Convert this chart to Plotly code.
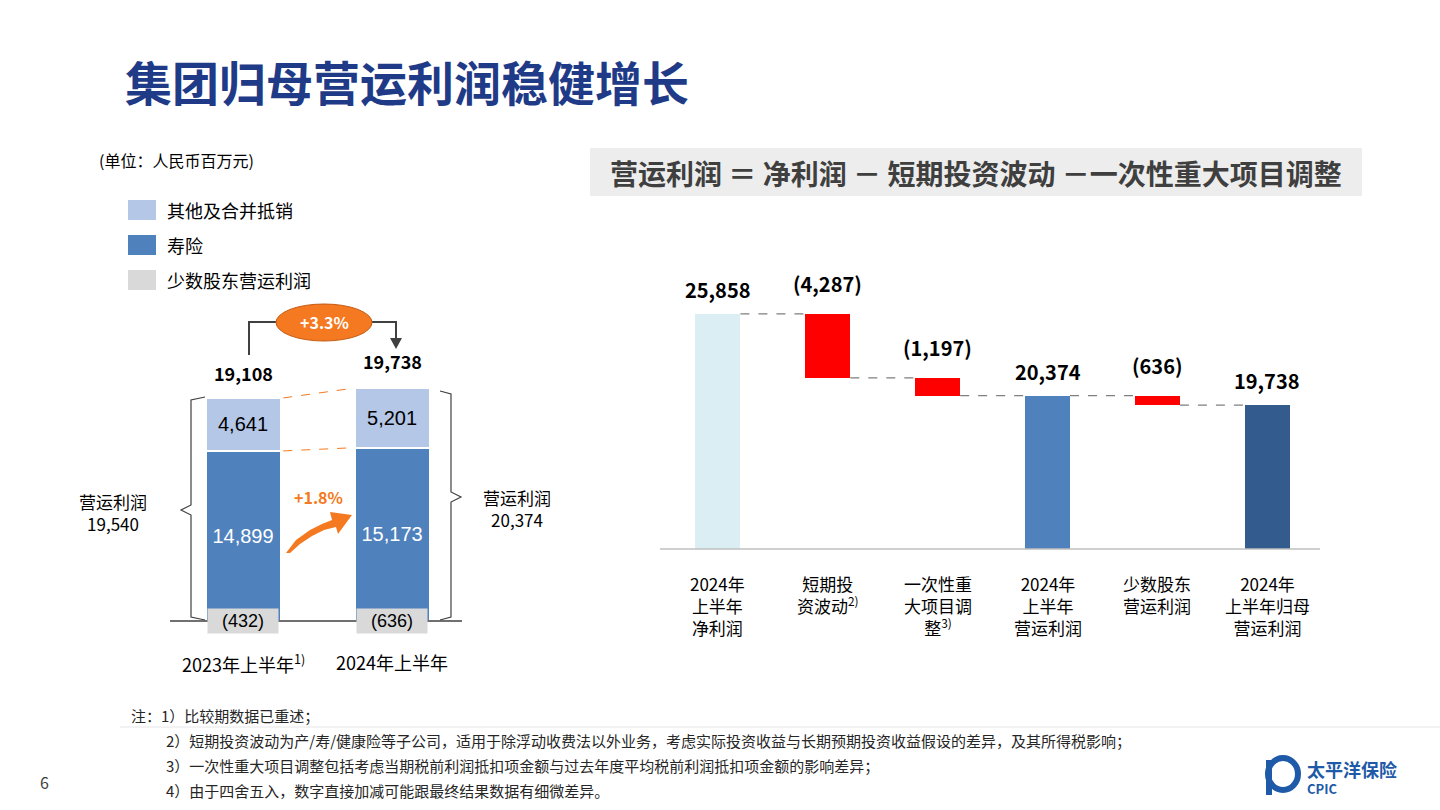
import plotly.graph_objects as go

# ---- data ----
left_years = ["2023年上半年", "2024年上半年"]
life = [14899, 15173]
other = [4641, 5201]
minority = [-432, -636]
group_total = [19108, 19738]

wf_names = ["2024年<br>上半年<br>净利润", "短期投<br>资波动<sup>2)</sup>", "一次性重<br>大项目调<br>整<sup>3)</sup>",
            "2024年<br>上半年<br>营运利润", "少数股东<br>营运利润", "2024年<br>上半年归母<br>营运利润"]
wf_values = [25858, -4287, -1197, 20374, -636, 19738]
wf_kind = ["total", "delta", "delta", "total", "delta", "total"]
wf_colors = ["#DAEEF3", "#FF0000", "#FF0000", "#4F81BD", "#FF0000", "#335B8E"]

W, H = 1440, 810
def px(x): return x / W
def py(y): return 1 - y / H

FONT = "Noto Sans CJK SC"
fig = go.Figure()

fig.add_bar(x=[0, 1], y=life, width=0.5, marker=dict(color="#4F81BD", line=dict(color="white", width=1.5)),
            text=[f"{v:,}" for v in life], textposition="inside", insidetextanchor="middle",
            textfont=dict(color="white", size=20, family="Liberation Sans"), xaxis="x", yaxis="y", showlegend=False)
fig.add_bar(x=[0, 1], y=other, width=0.5, marker=dict(color="#B4C7E7", line=dict(color="white", width=1.5)),
            text=[f"{v:,}" for v in other], textposition="inside", insidetextanchor="middle",
            textfont=dict(color="black", size=20, family="Liberation Sans"), xaxis="x", yaxis="y", showlegend=False)

bases, heights, tops, levels = [], [], [], []
run = 0
for v, k in zip(wf_values, wf_kind):
    if k == "total":
        bases.append(0); heights.append(v); tops.append(v); run = v
    else:
        bases.append(run + v); heights.append(-v); tops.append(run); run = run + v
    levels.append(run)
xs = list(range(len(wf_values)))
fig.add_bar(x=xs, y=heights, base=bases, width=0.41, marker=dict(color=wf_colors, line=dict(width=0)),
            xaxis="x2", yaxis="y2", showlegend=False, hoverinfo="skip")
Y2MIN = 10100

ann = []
shapes = []
def note(x, y, text, size, color="black", xanchor="center", yanchor="middle", **kw):
    ann.append(dict(x=px(x), y=py(y), xref="paper", yref="paper", text=text, showarrow=False,
                    xanchor=xanchor, yanchor=yanchor, font=dict(size=size, color=color), **kw))

for i, (v, k) in enumerate(zip(wf_values, wf_kind)):
    t = f"{v:,}" if k == "total" else f"({-v:,})"
    ann.append(dict(x=i, y=tops[i], xref="x2", yref="y2", text=f"<b>{t}</b>", showarrow=False,
                    yanchor="bottom", yshift=8 if k == "total" else 14, font=dict(size=20, color="black")))
    ann.append(dict(x=i, y=Y2MIN, xref="x2", yref="y2", text=wf_names[i], showarrow=False, yanchor="top",
                    yshift=-20, font=dict(size=17, color="black")))
    if i < len(wf_values) - 1:
        shapes.append(dict(type="line", xref="x2", yref="y2", x0=i + 0.205, x1=i + 0.795, y0=levels[i], y1=levels[i],
                           line=dict(color="#7F7F7F", width=1.3, dash="dash")))
shapes.append(dict(type="line", xref="paper", yref="paper", x0=px(660), x1=px(1320), y0=py(549), y1=py(549),
                   line=dict(color="#BFBFBF", width=1.5)))

for i in range(2):
    ann.append(dict(x=i, y=life[i] + other[i], xref="x", yref="y", text=f"<b>{group_total[i]:,}</b>",
                    showarrow=False, yanchor="bottom", yshift=10 + 2 * i, font=dict(size=18, color="black")))
    ann.append(dict(x=i, y=0, xref="x", yref="y", text=f"({-minority[i]})", showarrow=False, yanchor="middle",
                    bgcolor="#D9D9D9", width=68, height=22, font=dict(size=18, color="black", family="Liberation Sans")))
    ann.append(dict(x=i, y=0, xref="x", yref="y", text=left_years[i] + ("<sup>1)</sup>" if i == 0 else ""),
                    showarrow=False, yanchor="top", yshift=-26, font=dict(size=18, color="black")))
shapes.append(dict(type="line", xref="paper", yref="paper", x0=px(170), x1=px(462), y0=py(621), y1=py(621),
                   line=dict(color="#404040", width=1.5)))
for y0, y1 in [(life[0] + other[0], life[1] + other[1]), (life[0], life[1])]:
    shapes.append(dict(type="line", xref="x", yref="y", x0=0.27, x1=0.73, y0=y0, y1=y1,
                       line=dict(color="#F47920", width=1, dash="dash")))

def path(pts, close=True):
    s = "M " + " L ".join(f"{px(x):.5f},{py(y):.5f}" for x, y in pts)
    return s + (" Z" if close else "")

shapes.append(dict(type="path", xref="paper", yref="paper",
                   path=path([(205, 397), (191, 400), (191, 505), (181, 510), (191, 515), (191, 617), (205, 620)], False),
                   line=dict(color="#404040", width=1.2)))
shapes.append(dict(type="path", xref="paper", yref="paper",
                   path=path([(440, 391), (451, 394), (451, 492), (461, 497), (451, 502), (451, 617), (440, 620)], False),
                   line=dict(color="#404040", width=1.2)))
shapes.append(dict(type="path", xref="paper", yref="paper",
                   path=path([(249, 355), (249, 322), (280, 322)], False), line=dict(color="#404040", width=2)))
shapes.append(dict(type="path", xref="paper", yref="paper",
                   path=path([(370, 322), (396, 322), (396, 340)], False), line=dict(color="#404040", width=2)))
shapes.append(dict(type="path", xref="paper", yref="paper",
                   path=path([(390, 338), (402, 338), (396, 349)]), fillcolor="#404040", line=dict(width=0)))
shapes.append(dict(type="circle", xref="paper", yref="paper", x0=px(276), x1=px(372), y0=py(341), y1=py(304),
                   fillcolor="#F47920", line=dict(color="#C55A11", width=1)))
note(324, 322, "<b>+3.3%</b>", 16, "white")
a = [(286, 553), (296, 540), (310, 530), (322, 524), (332, 520), (330, 512), (352, 515), (338, 534), (336, 527),
     (324, 530), (312, 536), (300, 544), (290, 553)]
shapes.append(dict(type="path", xref="paper", yref="paper", path=path(a), fillcolor="#F47920", line=dict(width=0)))
note(318, 497, "<b>+1.8%</b>", 16, "#F47920")
note(113, 512, "营运利润<br>19,540", 17)
note(517, 508, "营运利润<br>20,374", 17)

for i, (c, t) in enumerate([("#B4C7E7", "其他及合并抵销"), ("#4F81BD", "寿险"), ("#D9D9D9", "少数股东营运利润")]):
    yc = 210 + 35 * i
    shapes.append(dict(type="rect", xref="paper", yref="paper", x0=px(128), x1=px(156), y0=py(yc + 10), y1=py(yc - 10),
                       fillcolor=c, line=dict(width=0)))
    note(165, yc, t, 18, xanchor="left")
note(97, 160, "(单位：人民币百万元)", 16, xanchor="left")

note(123, 80, "<b>集团归母营运利润稳健增长</b>", 47, "#1F3B87", xanchor="left")
shapes.append(dict(type="rect", xref="paper", yref="paper", x0=px(590), x1=px(1362), y0=py(196), y1=py(148),
                   fillcolor="#EDEDED", line=dict(width=0)))
note(976, 173, "<b>营运利润 ＝ 净利润 － 短期投资波动 －一次性重大项目调整</b>", 28, "#3F3F3F")

notes = ["注：1）比较期数据已重述；",
         "2）短期投资波动为产/寿/健康险等子公司，适用于除浮动收费法以外业务，考虑实际投资收益与长期预期投资收益假设的差异，及其所得税影响；",
         "3）一次性重大项目调整包括考虑当期税前利润抵扣项金额与过去年度平均税前利润抵扣项金额的影响差异；",
         "4）由于四舍五入，数字直接加减可能跟最终结果数据有细微差异。"]
for i, t in enumerate(notes):
    note(129 if i == 0 else 164, 715 + 25 * i, t, 15, "#262626", xanchor="left")
shapes.append(dict(type="line", xref="paper", yref="paper", x0=px(120), x1=px(1440), y0=py(727), y1=py(727),
                   line=dict(color="#E6E6E6", width=1)))
note(44, 782, "6", 16, "#404040")
shapes.append(dict(type="circle", xref="paper", yref="paper", x0=px(1268), x1=px(1298), y0=py(790), y1=py(758),
                   fillcolor="white", line=dict(color="#1E5AA8", width=6)))
shapes.append(dict(type="rect", xref="paper", yref="paper", x0=px(1266), x1=px(1272), y0=py(795), y1=py(760),
                   fillcolor="#1E5AA8", line=dict(width=0)))
note(1305, 769, "<b>太平洋保险</b>", 18, "#1E5AA8", xanchor="left")
note(1305, 788, "<b>CPIC</b>", 13, "#1E5AA8", xanchor="left")

ax_common = dict(showgrid=False, zeroline=False, showticklabels=False, showline=False, fixedrange=True)
fig.update_layout(
    width=W, height=H, margin=dict(l=0, r=0, t=0, b=0), paper_bgcolor="white", plot_bgcolor="rgba(0,0,0,0)",
    barmode="stack", font=dict(family=FONT), annotations=ann, shapes=shapes,
    xaxis=dict(domain=[px(170), px(460)], range=[-0.49, 1.456], **ax_common),
    yaxis=dict(domain=[py(621), py(300)], range=[0, 321 * 87.6], **ax_common),
    xaxis2=dict(domain=[px(660), px(1320)], range=[-0.527, 5.48], anchor="y2", **ax_common),
    yaxis2=dict(domain=[py(549), py(250)], range=[Y2MIN, Y2MIN + 299 * 67], anchor="x2", **ax_common),
)
fig.write_html("out.html", config={"displayModeBar": False})
with open("out.html", encoding="utf-8") as f:
    html = f.read()
html = html.replace("<body>", '<body style="margin:0;padding:0;overflow:hidden">', 1)
with open("out.html", "w", encoding="utf-8") as f:
    f.write(html)
